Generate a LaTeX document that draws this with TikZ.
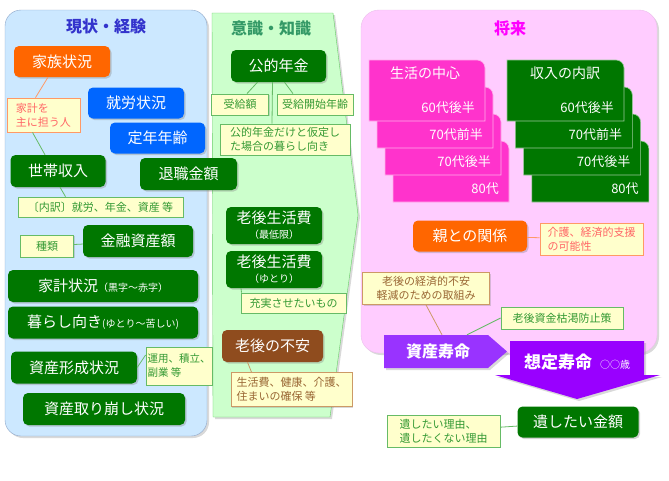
\documentclass[tikz,border=0pt]{standalone}
\usepackage{fontspec}
\setmainfont{Noto Sans CJK JP}
\usetikzlibrary{shadows}

% colours
\definecolor{boxgreen}{RGB}{0,119,0}
\definecolor{boxblue}{RGB}{0,102,255}
\definecolor{boxorange}{RGB}{255,102,0}
\definecolor{boxbrown}{RGB}{143,76,30}
\definecolor{cardpink}{RGB}{255,51,204}
\definecolor{lifepurple}{RGB}{153,0,255}
\definecolor{assetpurple}{RGB}{153,51,255}
\definecolor{notefill}{RGB}{255,255,204}
\definecolor{notegreen}{RGB}{102,187,102}
\definecolor{notegreentext}{RGB}{51,153,51}
\definecolor{noteorange}{RGB}{255,153,102}
\definecolor{noteorangetext}{RGB}{255,102,102}
\definecolor{notebrown}{RGB}{204,153,102}
\definecolor{notebrowntext}{RGB}{153,102,51}
\definecolor{pastpanel}{RGB}{204,232,255}
\definecolor{pastborder}{RGB}{140,165,200}
\definecolor{pasttitle}{RGB}{51,51,204}
\definecolor{nowpanel}{RGB}{204,255,204}
\definecolor{nowborder}{RGB}{102,204,102}
\definecolor{nowtitle}{RGB}{51,153,102}
\definecolor{futpanel}{RGB}{255,204,255}
\definecolor{futborder}{RGB}{235,190,235}
\definecolor{futtitle}{RGB}{255,0,255}

\newcommand{\subtext}{\fontsize{10pt}{12pt}\selectfont}

\tikzset{
  sz/.style 2 args={minimum width=#1pt, minimum height=#2pt},
  fact/.style={rounded corners=5pt, text=white, inner sep=0pt, align=center,
    font=\fontsize{15pt}{17pt}\selectfont,
    drop shadow={shadow xshift=1.5pt, shadow yshift=-1.5pt, opacity=0.35}},
  greenbox/.style={fact, fill=boxgreen},
  bluebox/.style={fact, fill=boxblue},
  orangebox/.style={fact, fill=boxorange},
  brownbox/.style={fact, fill=boxbrown},
  memo/.style={fill=notefill, line width=0.8pt, inner sep=0pt, align=left,
    font=\fontsize{11pt}{14pt}\selectfont,
    drop shadow={shadow xshift=1.2pt, shadow yshift=-1.2pt, opacity=0.3}},
  gnote/.style={memo, draw=notegreen, text=notegreentext},
  onote/.style={memo, draw=noteorange, text=noteorangetext},
  bnote/.style={memo, draw=notebrown, text=notebrowntext},
  gline/.style={draw=notegreen, line width=0.8pt},
  oline/.style={draw=noteorange, line width=0.8pt},
  bline/.style={draw=notebrown, line width=0.8pt},
  panelshadow/.style={drop shadow={shadow xshift=2pt, shadow yshift=-2pt, opacity=0.3}},
  paneltitle/.style={font=\fontsize{16pt}{18pt}\selectfont\bfseries},
  cardtext/.style={text=white, font=\fontsize{13pt}{15pt}\selectfont, anchor=east, inner sep=0pt},
  cardhead/.style={text=white, font=\fontsize{14pt}{16pt}\selectfont, inner sep=0pt},
  arrowtext/.style={text=white, inner sep=0pt, font=\fontsize{16pt}{18pt}\selectfont\bfseries},
}

\begin{document}
\begin{tikzpicture}[x=1pt,y=-1pt]
  \useasboundingbox (0,0) rectangle (669,480);

  % panels
  \draw[pastborder, fill=pastpanel, rounded corners=16pt, panelshadow] (5,10) rectangle (207,436);
  \draw[nowborder, fill=nowpanel, panelshadow] (212,13) -- (333,13) -- (358,215) -- (330,417) -- (213,417) -- cycle;
  \draw[futborder, fill=futpanel, rounded corners=18pt, panelshadow] (361,10) rectangle (657,353);

  \node[paneltitle, text=pasttitle] (past) at (106,26) {現状・経験};
  \node[paneltitle, text=nowtitle] (now) at (271,28) {意識・知識};
  \node[paneltitle, text=futtitle] (future) at (510,28) {将来};

  % present state
  \node[orangebox, sz={96}{31}] (kazoku) at (62,61.5) {家族状況};
  \node[onote, sz={73}{34}] (kakeinin) at (43.5,115) {家計を\\主に担う人};
  \node[bluebox, sz={96}{31}] (shuro) at (136,103) {就労状況};
  \node[bluebox, sz={95}{31}] (teinen) at (157.5,138) {定年年齢};
  \node[greenbox, sz={95}{32}] (setai) at (58,171) {世帯収入};
  \node[greenbox, sz={97}{32}] (taishoku) at (188.5,174) {退職金額};
  \node[gnote, sz={165}{20}] (uchiwake) at (100.5,207) {〔内訳〕就労、年金、資産 等};
  \node[greenbox, sz={110}{32}] (kinyu) at (138,241) {金融資産額};
  \node[gnote, sz={53}{22}] (shurui) at (47,246) {種類};
  \node[greenbox, sz={190}{32}] (kakei) at (103,286) {家計状況{\subtext（黒字～赤字）}};
  \node[greenbox, sz={190}{32}] (kurashi) at (103,322.5) {暮らし向き{\subtext(ゆとり～苦しい)}};
  \node[greenbox, sz={126}{32}] (keisei) at (74,367.5) {資産形成状況};
  \node[gnote, sz={66}{38}, font=\fontsize{10.5pt}{14pt}\selectfont] (unyo) at (179,366) {運用、積立、\\副業 等};
  \node[greenbox, sz={162}{32}] (torikuzushi) at (104,409) {資産取り崩し状況};

  % awareness
  \node[greenbox, sz={95}{32}] (nenkin) at (278.5,66) {公的年金};
  \node[gnote, sz={57}{21}] (gaku) at (240,104.5) {受給額};
  \node[gnote, sz={76}{21}] (kaishi) at (315,104.5) {受給開始年齢};
  \node[gnote, sz={130}{31}] (katei) at (285,139.5) {公的年金だけと仮定し\\た場合の暮らし向き};
  \node[greenbox, sz={96}{37}] (saitei) at (274,225.5) {老後生活費\\[-2pt]{\subtext（最低限）}};
  \node[greenbox, sz={96}{37}] (yutori) at (274,269.5) {老後生活費\\[-2pt]{\subtext（ゆとり）}};
  \node[gnote, sz={105}{20}] (jujitsu) at (293.5,303) {充実させたいもの};
  \node[brownbox, sz={101}{32}] (fuan) at (272.5,346) {老後の不安};
  \node[bnote, sz={121}{34}] (fuannote) at (291.5,389.5) {生活費、健康、介護、\\住まいの確保 等};

  % future: stacked cards
  \foreach \i/\lab in {3/80代, 2/70代後半, 1/70代前半, 0/60代後半} {
    \draw[fill=cardpink, draw=white!60!cardpink, line width=0.6pt]
      (369+8*\i,60+27*\i+61) -- (369+8*\i,60+27*\i) -- (369+8*\i+108,60+27*\i)
      arc[start angle=90, end angle=0, radius=8pt] -- (369+8*\i+116,60+27*\i+61) -- cycle;
    \node[cardtext] (life\i) at (369+8*\i+106,60+27*\i+48) {\lab};
    \draw[fill=boxgreen, draw=white!60!boxgreen, line width=0.6pt]
      (507+8.3*\i,60+27*\i+61) -- (507+8.3*\i,60+27*\i) -- (507+8.3*\i+109,60+27*\i)
      arc[start angle=90, end angle=0, radius=8pt] -- (507+8.3*\i+117,60+27*\i+61) -- cycle;
    \node[cardtext] (income\i) at (507+8.3*\i+107,60+27*\i+48) {\lab};
  }
  \node[cardhead] (lifehead) at (425,73) {生活の中心};
  \node[cardhead] (incomehead) at (565,73) {収入の内訳};

  \node[orangebox, sz={114}{31}] (oya) at (470,236) {親との関係};
  \node[onote, sz={103}{32}] (kaigo) at (591.5,239) {介護、経済的支援\\の可能性};
  \node[bnote, sz={127}{32}, align=center] (torikumi) at (426,288.5) {老後の経済的不安\\軽減のための取組み};
  \node[gnote, sz={122}{22}] (koketsu) at (562,318) {老後資金枯渇防止策};

  % life arrows
  \fill[assetpurple, panelshadow] (384,335) -- (488,335) -- (507,351.5) -- (488,368) -- (384,368) -- cycle;
  \node[arrowtext, sz={104}{33}] (shisan) at (438,351.5) {資産寿命};
  \fill[lifepurple, panelshadow] (510,341) -- (644,341) -- (644,375) -- (660,375) -- (577,399) -- (495,375) -- (510,375) -- cycle;
  \node[arrowtext, font=\fontsize{17pt}{19pt}\selectfont\bfseries] (sotei) at (577,362) {想定寿命\hspace{8pt}{\subtext\mdseries ○○歳}};

  \node[greenbox, sz={121}{31}] (nokoshi) at (578,422) {遺したい金額};
  \node[gnote, sz={113}{32}] (riyu) at (443.5,431) {遺したい理由、\\遺したくない理由};

  % connectors
  \draw[oline] ([xshift=-14pt]kazoku.south) -- ([xshift=-8pt]kakeinin.north);
  \draw[gline] ([xshift=-11pt]kakeinin.south) -- ([xshift=-13pt]setai.north);
  \draw[gline] ([xshift=2pt]setai.south) -- ([xshift=-35pt]uchiwake.north);
  \draw[gline] (shurui) -- (kinyu);
  \draw[gline] (keisei.east) -- ([yshift=11pt]unyo.west);
  \draw[gline] ([xshift=-21pt]nenkin.south) -- ([xshift=7pt]gaku.north);
  \draw[gline] ([xshift=6pt]nenkin.south) -- ([xshift=-22pt]kaishi.north);
  \draw[gline] ([xshift=-6pt]nenkin.south) -- ([xshift=-13pt]katei.north);
  \draw[gline] ([xshift=-33pt]yutori.south) -- ([xshift=-52pt]jujitsu.north);
  \draw[bline] ([xshift=-25pt]fuan.south) -- ([xshift=-40pt]fuannote.north);
  \draw[oline] (oya) -- (kaigo);
  \draw[bline] (torikumi.south) -- ([xshift=4pt]shisan.north);
  \draw[gline] ([xshift=29pt]shisan.north) -- (koketsu.west);
  \draw[gline] (riyu) -- (nokoshi);
\end{tikzpicture}
\end{document}
